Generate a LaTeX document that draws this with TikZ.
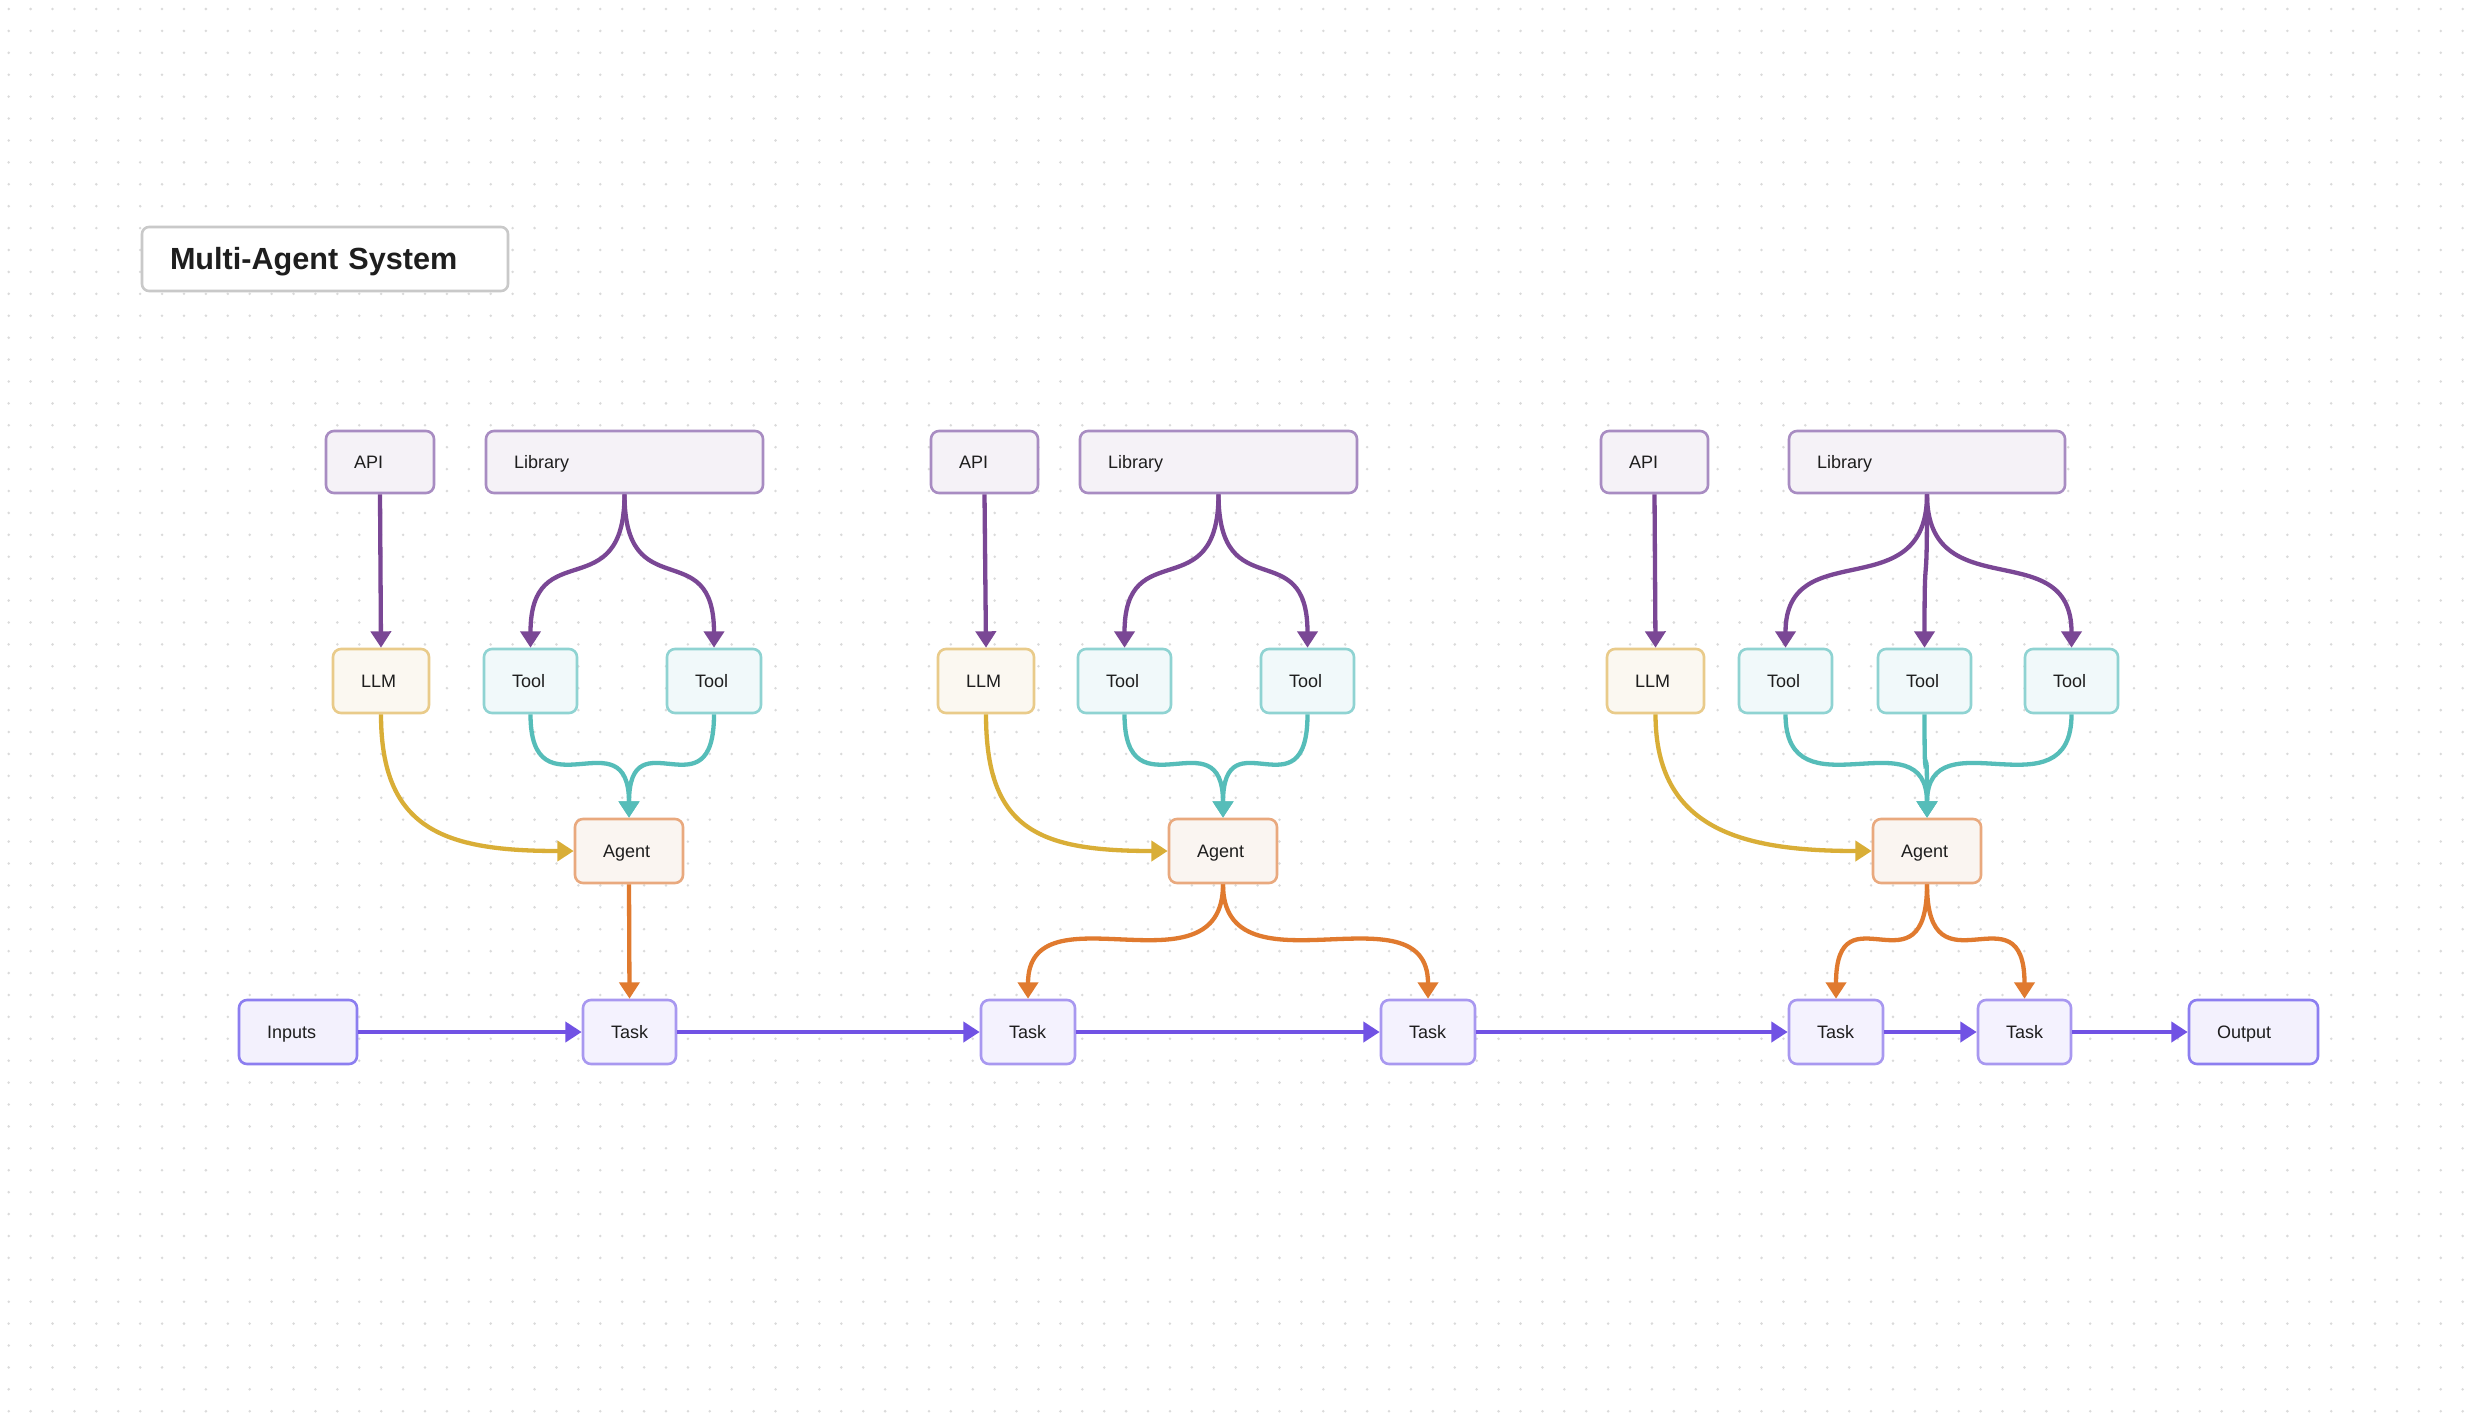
\documentclass[tikz,border=0pt]{standalone}
\usepackage{fontspec}
\setmainfont{Liberation Sans}
\usetikzlibrary{arrows.meta,calc}

\definecolor{dotc}{HTML}{DADADA}
\definecolor{txt}{HTML}{1E1E1E}
\definecolor{titleD}{HTML}{C9C9C9}
\definecolor{srcD}{HTML}{A88CC2}
\definecolor{srcF}{HTML}{F5F2F7}
\definecolor{llmD}{HTML}{E9CB8A}
\definecolor{llmF}{HTML}{FBF8F1}
\definecolor{toolD}{HTML}{8FD3D2}
\definecolor{toolF}{HTML}{F1F9FA}
\definecolor{agD}{HTML}{E9A97E}
\definecolor{agF}{HTML}{FAF5F1}
\definecolor{taskD}{HTML}{A898F0}
\definecolor{taskF}{HTML}{F4F2FE}
\definecolor{ioD}{HTML}{8C7EF0}
\definecolor{ioF}{HTML}{F3F1FD}
\definecolor{purA}{HTML}{7A4795}
\definecolor{goldA}{HTML}{D9AE37}
\definecolor{tealA}{HTML}{56BDB9}
\definecolor{orgA}{HTML}{E07A2F}
\definecolor{chainA}{HTML}{7152E4}

\newcommand\mkbox[7]{%
  \pgfmathsetmacro\myBW{(#4-#3)*0.5}%
  \pgfmathsetmacro\myBH{(#6-#5)*0.5}%
  \pgfmathsetmacro\myBT{\myBW-28}%
  \node[#2, minimum width=\myBW pt, minimum height=\myBH pt, text width=\myBT pt] (#1) at ({(#3+#4)/2},{(#5+#6)/2}) {#7};}
\newcommand\vcurve[4]{%
  \draw[#1] (#2) .. controls +(0,#4) and +(0,-#4) .. (#3);}

\begin{document}
\begin{tikzpicture}[x=0.5pt,y=-0.5pt,
  box/.style={draw, rounded corners=4pt, line width=1.3pt, font=\fontsize{9}{11}\selectfont, text=txt, inner ysep=0pt, inner xsep=14pt, align=left, text height=6.5pt, text depth=0pt},
  titlebox/.style={box, draw=titleD, fill=white, rounded corners=3.5pt, font=\fontsize{15.3}{18}\selectfont\bfseries, text height=11pt},
  srcbox/.style={box, draw=srcD, fill=srcF},
  llmbox/.style={box, draw=llmD, fill=llmF},
  toolbox/.style={box, draw=toolD, fill=toolF},
  agentbox/.style={box, draw=agD, fill=agF},
  taskbox/.style={box, draw=taskD, fill=taskF},
  iobox/.style={box, draw=ioD, fill=ioF},
  arr/.style={line width=2.15pt, -{Triangle[length=8.2pt,width=10pt]}},
  parr/.style={arr, draw=purA},
  garr/.style={arr, draw=goldA},
  tarr/.style={arr, draw=tealA},
  oarr/.style={arr, draw=orgA},
  carr/.style={arr, draw=chainA},
  dotrow/.style={draw=dotc, line width=1.4pt, line cap=round, dash pattern=on 0pt off 10.955pt}
]
\useasboundingbox (0,0) rectangle (2476,1412);
\fill[white] (0,0) rectangle (2476,1412);
\foreach \j in {0,...,64}{\draw[dotrow] (8.7,{9+21.91*\j}) -- (2470,{9+21.91*\j});}

% title
\mkbox{title}{titlebox}{142}{508}{227}{291}{Multi-Agent System}

% column 1
\mkbox{api1}{srcbox}{326}{434}{431}{493}{API}
\mkbox{lib1}{srcbox}{486}{763}{431}{493}{Library}
\mkbox{llm1}{llmbox}{333}{429}{649}{713}{LLM}
\mkbox{tool1a}{toolbox}{484}{577}{649}{713}{Tool}
\mkbox{tool1b}{toolbox}{667}{761}{649}{713}{Tool}
\mkbox{agent1}{agentbox}{575}{683}{819}{883}{Agent}

% column 2
\mkbox{api2}{srcbox}{931}{1038}{431}{493}{API}
\mkbox{lib2}{srcbox}{1080}{1357}{431}{493}{Library}
\mkbox{llm2}{llmbox}{938}{1034}{649}{713}{LLM}
\mkbox{tool2a}{toolbox}{1078}{1171}{649}{713}{Tool}
\mkbox{tool2b}{toolbox}{1261}{1354}{649}{713}{Tool}
\mkbox{agent2}{agentbox}{1169}{1277}{819}{883}{Agent}

% column 3
\mkbox{api3}{srcbox}{1601}{1708}{431}{493}{API}
\mkbox{lib3}{srcbox}{1789}{2065}{431}{493}{Library}
\mkbox{llm3}{llmbox}{1607}{1704}{649}{713}{LLM}
\mkbox{tool3a}{toolbox}{1739}{1832}{649}{713}{Tool}
\mkbox{tool3b}{toolbox}{1878}{1971}{649}{713}{Tool}
\mkbox{tool3c}{toolbox}{2025}{2118}{649}{713}{Tool}
\mkbox{agent3}{agentbox}{1873}{1981}{819}{883}{Agent}

% task row
\mkbox{inputs}{iobox}{239}{357}{1000}{1064}{Inputs}
\mkbox{task1}{taskbox}{583}{676}{1000}{1064}{Task}
\mkbox{task2}{taskbox}{981}{1075}{1000}{1064}{Task}
\mkbox{task3}{taskbox}{1381}{1475}{1000}{1064}{Task}
\mkbox{task4}{taskbox}{1789}{1883}{1000}{1064}{Task}
\mkbox{task5}{taskbox}{1978}{2071}{1000}{1064}{Task}
\mkbox{output}{iobox}{2189}{2318}{1000}{1064}{Output}

% column 1 connectors
\draw[parr] (api1.south) -- (llm1.north);
\vcurve{parr}{lib1.south}{tool1a.north}{115}
\vcurve{parr}{lib1.south}{tool1b.north}{115}
\vcurve{tarr}{tool1a.south}{agent1.north}{104}
\vcurve{tarr}{tool1b.south}{agent1.north}{104}
\draw[garr] (llm1.south) .. controls +(0,115) and +(-130,0) .. (agent1.west);
\draw[oarr] (agent1.south) -- (task1.north);

% column 2 connectors
\draw[parr] (api2.south) -- (llm2.north);
\vcurve{parr}{lib2.south}{tool2a.north}{115}
\vcurve{parr}{lib2.south}{tool2b.north}{115}
\vcurve{tarr}{tool2a.south}{agent2.north}{104}
\vcurve{tarr}{tool2b.south}{agent2.north}{104}
\draw[garr] (llm2.south) .. controls +(0,115) and +(-130,0) .. (agent2.west);
\vcurve{oarr}{agent2.south}{task2.north}{115}
\vcurve{oarr}{agent2.south}{task3.north}{115}

% column 3 connectors
\draw[parr] (api3.south) -- (llm3.north);
\vcurve{parr}{lib3.south}{tool3a.north}{115}
\vcurve{parr}{lib3.south}{tool3b.north}{115}
\vcurve{parr}{lib3.south}{tool3c.north}{115}
\vcurve{tarr}{tool3a.south}{agent3.north}{104}
\vcurve{tarr}{tool3b.south}{agent3.north}{104}
\vcurve{tarr}{tool3c.south}{agent3.north}{104}
\draw[garr] (llm3.south) .. controls +(0,115) and +(-130,0) .. (agent3.west);
\vcurve{oarr}{agent3.south}{task4.north}{115}
\vcurve{oarr}{agent3.south}{task5.north}{115}

% task chain
\draw[carr] (inputs.east) -- (task1.west);
\draw[carr] (task1.east) -- (task2.west);
\draw[carr] (task2.east) -- (task3.west);
\draw[carr] (task3.east) -- (task4.west);
\draw[carr] (task4.east) -- (task5.west);
\draw[carr] (task5.east) -- (output.west);
\end{tikzpicture}
\end{document}
